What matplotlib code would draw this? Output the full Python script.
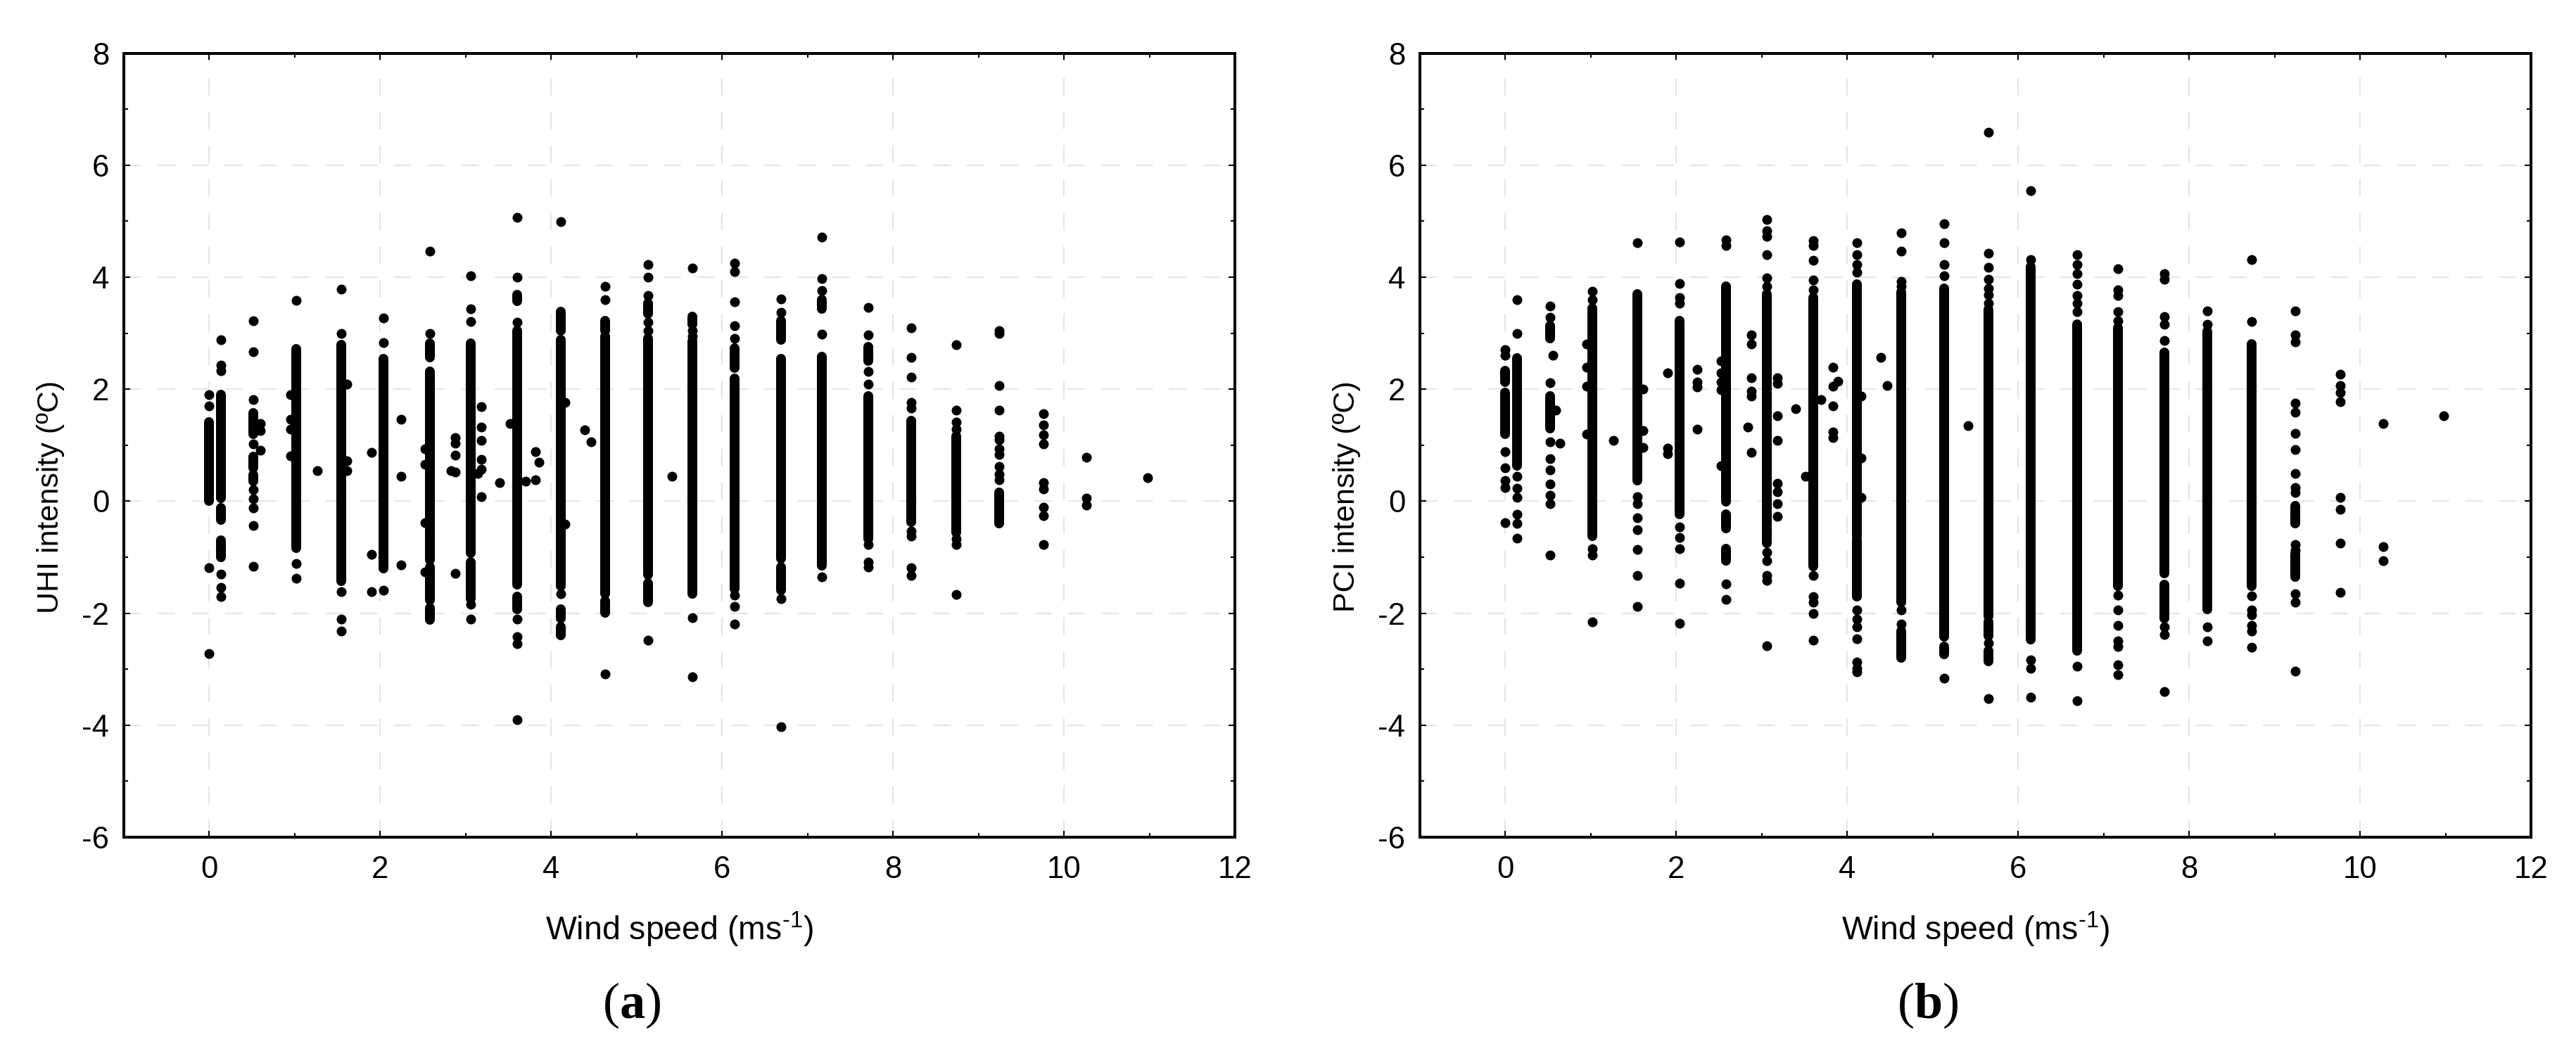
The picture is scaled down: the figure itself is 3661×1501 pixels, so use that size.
import matplotlib
matplotlib.use("Agg")
import matplotlib.pyplot as plt
from matplotlib.ticker import MultipleLocator

plt.rcParams['font.family'] = 'Liberation Sans'
plt.rcParams['mathtext.fontset'] = 'custom'
plt.rcParams['mathtext.rm'] = 'Liberation Sans'
plt.rcParams['mathtext.bf'] = 'Liberation Serif:bold'
plt.rcParams['mathtext.default'] = 'regular'
plt.rcParams['lines.scale_dashes'] = False
plt.rcParams['axes.unicode_minus'] = False

x_label = r'Wind speed (ms$^{\text{-1}}$)'
uhi_label = 'UHI intensity (ºC)'
pci_label = 'PCI intensity (ºC)'
x_ticks = [0, 2, 4, 6, 8, 10, 12]
y_ticks = [-6, -4, -2, 0, 2, 4, 6, 8]

# Panel (a): runs of overlapping observations, wind speed / low / high
uhi_run_x = [0.0, 0.14, 0.14, 0.14, 0.515, 0.515, 0.515, 1.02, 1.54, 2.04, 2.58, 2.58, 2.58, 2.58,
             3.06, 3.06, 3.6, 3.6, 3.6, 4.11, 4.11, 4.11, 4.11, 4.63, 4.63, 4.63, 5.13, 5.13, 5.13,
             5.65, 5.65, 6.15, 6.15, 6.69, 6.69, 6.69, 7.17, 7.17, 7.71, 7.71, 8.21, 8.74, 9.24]
uhi_run_low = [0.0, 0.05, -0.34, -1.0, 1.2, 0.6, 0.35, -0.84, -1.43, -1.2, 2.57, -1.05, -1.77, -2.12,
               -0.93, -1.74, 3.57, -1.49, -1.93, 3.04, -1.52, -2.09, -2.4, 3.04, -1.65, -1.99, 3.35, -1.31, -1.81,
               3.16, -1.65, 2.38, -1.56, 2.88, -1.03, -1.59, 3.44, -1.15, 2.51, -0.68, -0.37, -0.56, -0.4]
uhi_run_high = [1.41, 1.9, -0.12, -0.7, 1.57, 0.8, 0.47, 2.72, 2.79, 2.54, 2.82, 2.32, -1.18, -1.9,
                2.82, -1.09, 3.69, 3.04, -1.71, 3.38, 2.88, -1.93, -2.24, 3.22, 2.94, -1.78, 3.54, 2.91, -1.46,
                3.29, 2.85, 2.73, 2.19, 3.22, 2.54, -1.18, 3.6, 2.58, 2.76, 1.88, 1.44, 1.16, 0.16]

# Panel (a): separately visible observations
uhi_pt_x = [0.0, 0.14, 0.515, 0.6, 0.955, 1.02, 1.26, 1.54, 1.61, 1.9, 2.04, 2.24, 2.52, 2.58, 2.83, 2.88,
            3.06, 3.14, 3.18, 3.4, 3.52, 3.6, 3.7, 3.82, 3.86, 4.11, 4.16, 4.39, 4.47, 4.63, 5.13, 5.41,
            5.65, 6.15, 6.69, 7.17, 7.71, 8.21, 8.74, 9.24, 9.76, 10.26, 10.98]
uhi_pt_y = [[1.9, 1.7, -1.19, -2.72], [2.88, 2.43, 2.33, -1.3, -1.54, -1.71],
            [3.22, 2.67, 1.81, 1.02, 0.2, 0.04, -0.12, -0.44, -1.17], [1.39, 1.26, 0.91],
            [1.9, 1.46, 1.29, 0.81], [3.58, -1.11, -1.38], [0.54], [3.79, 3.0, -1.62, -2.1, -2.32],
            [2.09, 0.72, 0.54], [0.87, -0.95, -1.62], [3.27, 2.83, -1.59], [1.46, 0.44, -1.14],
            [0.94, 0.66, -0.38, -1.26], [4.46, 3.0], [0.55], [1.13, 1.04, 0.82, 0.52, -1.29],
            [4.03, 3.43, 3.21, -1.84, -2.1], [0.5], [1.69, 1.32, 1.09, 0.74, 0.57, 0.08], [0.33], [1.39],
            [5.07, 4.0, 3.19, -2.1, -2.42, -2.54, -3.9], [0.36], [0.88, 0.38], [0.69],
            [4.99, -1.65], [1.76, -0.41], [1.27], [1.06], [3.83, 3.6, -3.09], [4.22, 4.0, 3.67, 3.19, 3.04, -2.48], [0.44],
            [4.16, 3.04, 2.94, -2.08, -3.14], [4.25, 4.1, 3.56, 3.13, 2.9, -1.68, -1.88, -2.2],
            [3.61, 3.37, -1.74, -4.03], [4.71, 3.98, 3.76, 2.98, -1.35],
            [3.46, 2.97, 2.31, 2.09, -0.77, -1.09, -1.18], [3.09, 2.57, 2.21, 1.76, 1.66, -0.53, -0.62, -1.19, -1.33],
            [2.79, 1.62, 1.41, 1.29, -0.68, -0.78, -1.66], [3.04, 3.0, 2.06, 1.63, 1.16, 1.1, 0.94, 0.83, 0.62, 0.48, 0.38],
            [1.56, 1.36, 1.18, 1.02, 0.33, 0.22, -0.11, -0.26, -0.77], [0.78, 0.06, -0.07], [0.42]]

# Panel (b): runs of overlapping observations
pci_run_x = [0.0, 0.0, 0.14, 0.52, 0.52, 1.015, 1.54, 2.04, 2.58, 2.58, 2.58, 3.06, 3.6, 4.11, 4.11, 4.63, 4.63,
             5.13, 5.13, 5.65, 5.65, 5.65, 6.15, 6.69, 7.17, 7.71, 7.71, 8.21, 8.73, 9.24, 9.24, 9.24]
pci_run_low = [2.13, 1.2, 0.63, 2.9, 1.3, -0.62, 0.37, -0.24, -0.01, -0.49, -1.06, -0.75, -1.17, -0.62, -1.71, -1.81, -2.8,
               -2.42, -2.74, -2.06, -2.41, -2.86, -2.47, -2.67, -1.51, -1.29, -2.09, -1.93, -1.52, -0.4, -1.35, -1.29]
pci_run_high = [2.33, 1.94, 2.55, 3.13, 1.88, 3.45, 3.7, 3.22, 3.83, -0.24, -0.85, 3.7, 3.64, 3.87, -0.69, 3.74, -2.32,
                3.8, -2.6, 3.42, -2.15, -2.67, 4.19, 3.16, 3.1, 2.65, -1.49, 3.03, 2.81, -0.08, -1.0, -0.94]

# Panel (b): separately visible observations
pci_pt_x = [0.0, 0.14, 0.52, 0.555, 0.59, 0.64, 0.95, 1.015, 1.26, 1.54, 1.61, 1.9, 2.04, 2.24, 2.52, 2.58, 2.84, 2.88,
            3.06, 3.18, 3.4, 3.51, 3.6, 3.69, 3.83, 3.89, 4.11, 4.165, 4.39, 4.47, 4.63, 5.13, 5.41, 5.65, 6.15,
            6.69, 7.17, 7.71, 8.21, 8.73, 9.24, 9.77, 10.27, 10.98]
pci_pt_y = [[2.7, 2.6, 0.88, 0.6, 0.37, 0.24, -0.38], [3.6, 3.0, 0.45, 0.23, 0.07, -0.24, -0.4, -0.66],
            [3.48, 3.28, 2.12, 1.06, 0.76, 0.56, 0.31, 0.1, -0.04, -0.96], [2.6], [1.62], [1.04],
            [2.81, 2.39, 2.05, 1.2], [3.75, 3.6, -0.85, -0.96, -2.15], [1.08],
            [4.61, 0.08, -0.04, -0.3, -0.51, -0.86, -1.33, -1.88], [2.0, 1.26, 0.96], [2.29, 0.95, 0.85],
            [4.63, 3.88, 3.64, 3.54, -0.46, -0.65, -0.85, -1.46, -2.18], [2.35, 2.13, 2.04, 1.29],
            [2.51, 2.29, 2.13, 1.99, 0.63], [4.67, 4.57, -1.48, -1.76], [1.32], [2.97, 2.81, 2.2, 1.97, 1.88, 0.87],
            [5.03, 4.83, 4.73, 4.4, 3.99, 3.83, -0.91, -1.06, -1.33, -1.42, -2.58],
            [2.2, 2.1, 1.53, 1.08, 0.32, 0.17, -0.05, -0.27], [1.65], [0.44],
            [4.65, 4.56, 4.3, 3.95, 3.77, -1.33, -1.71, -1.81, -2.0, -2.48], [1.81], [2.39, 2.05, 1.7, 1.24, 1.14], [2.14],
            [4.61, 4.4, 4.22, 4.09, -1.94, -2.1, -2.24, -2.46, -2.87, -2.98, -3.05], [1.87, 0.77, 0.07], [2.57], [2.06],
            [4.79, 4.46, 3.93, 3.83, -1.94, -2.19], [4.95, 4.61, 4.22, 4.03, -3.16], [1.35],
            [6.59, 4.43, 4.18, 3.96, 3.8, 3.69, 3.54, -2.53, -3.53], [5.55, 4.31, -2.83, -2.99, -3.5],
            [4.4, 4.22, 4.06, 3.87, 3.67, 3.54, 3.38, -2.95, -3.56],
            [4.15, 3.77, 3.67, 3.38, 3.22, -1.68, -1.94, -2.22, -2.49, -2.6, -2.92, -3.1],
            [4.06, 3.96, 3.29, 3.16, 2.87, -2.25, -2.38, -3.4], [3.39, 3.16, -2.25, -2.49],
            [4.31, 3.21, -1.69, -1.94, -2.03, -2.22, -2.32, -2.61],
            [3.39, 2.97, 2.84, 1.75, 1.59, 1.21, 0.92, 0.49, 0.24, 0.15, -0.78, -0.87, -1.65, -1.81, -3.04],
            [2.26, 2.07, 1.94, 1.78, 0.07, -0.14, -0.75, -1.63], [1.38, -0.81, -1.06], [1.53]]

W, H = 3661, 1501
DOT_PX = 14.0
dot_pt = DOT_PX * 0.72
GRID = '#E6E6E6'
TOP, BOTTOM = 75.5, 1190


def panel(box, ylabel, label_x, run_x, run_low, run_high, pt_x, pt_y):
    left, right = box
    ax = fig.add_axes([left / W, 1 - BOTTOM / H, (right - left) / W, (BOTTOM - TOP) / H])
    ax.set_xlim(-1, 12)
    ax.set_ylim(-6, 8)
    ax.set_xticks(x_ticks)
    ax.set_yticks(y_ticks)
    ax.xaxis.set_minor_locator(MultipleLocator(1))
    ax.yaxis.set_minor_locator(MultipleLocator(1))
    ax.tick_params(which='major', direction='in', length=6.5, width=1.5, top=True, right=True, labelsize=31.5)
    ax.tick_params(which='minor', direction='in', length=4, width=1.5, top=True, right=True)
    ax.tick_params(axis='x', which='major', pad=19)
    ax.tick_params(axis='y', which='major', pad=15)
    for s in ax.spines.values():
        s.set_linewidth(2.9)
    ax.grid(True, which='major', color=GRID, linewidth=1.6, linestyle=(0, (18, 16.5)))
    ax.set_axisbelow(True)
    lc = ax.vlines(run_x, run_low, run_high, colors='black', linewidth=dot_pt, zorder=3)
    lc.set_capstyle('round')
    xs = [x for x, ys in zip(pt_x, pt_y) for _ in ys]
    ys = [y for col in pt_y for y in col]
    ax.scatter(xs, ys, s=dot_pt ** 2, c='black', linewidths=0, zorder=3)
    ax.set_xlabel(x_label, fontsize=33.5, labelpad=0)
    ax.xaxis.set_label_coords(0.5, (1190 - 1336) / (BOTTOM - TOP))
    ax.xaxis.label.set_va('baseline')
    fig.text(label_x / W, 1 - 706 / H, ylabel, rotation=90, fontsize=31, ha='center', va='center')
    return ax


fig = plt.figure(figsize=(W / 100, H / 100), dpi=100, facecolor='white')
panel((176, 1755), uhi_label, 72, uhi_run_x, uhi_run_low, uhi_run_high, uhi_pt_x, uhi_pt_y)
panel((2018, 3597), pci_label, 1914, pci_run_x, pci_run_low, pci_run_high, pci_pt_x, pci_pt_y)
fig.text(898 / W, 1 - 1447 / H, r'($\mathbf{a}$)', family='Liberation Serif', fontsize=52, ha='center', va='baseline')
fig.text(2740 / W, 1 - 1447 / H, r'($\mathbf{b}$)', family='Liberation Serif', fontsize=52, ha='center', va='baseline')
fig.savefig('out.png', dpi=100, facecolor='white')
